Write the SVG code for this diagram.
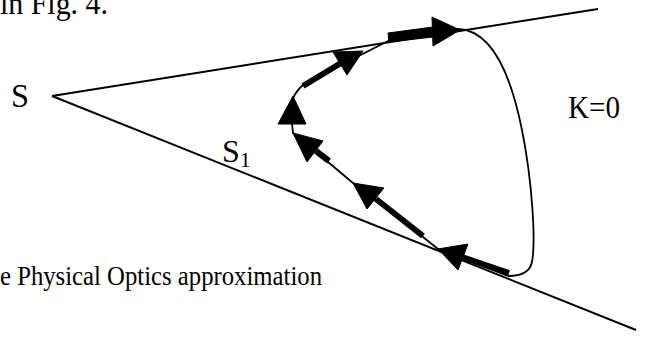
<svg xmlns="http://www.w3.org/2000/svg" width="655" height="344" viewBox="0 0 655 344">
<style>
.t{font-family:"Liberation Serif","Times New Roman",serif;fill:#000}
.ray{stroke:#000;stroke-width:2;fill:none}
.thin{stroke:#000;stroke-width:1.8;fill:none;stroke-linejoin:round}
.thick{stroke:#000;stroke-width:6;fill:none;stroke-linecap:butt}
.head{fill:#000;stroke:#000;stroke-width:1;stroke-linejoin:round}
</style>
<rect width="655" height="344" fill="#fff"/>
<g id="caption-top"><text class="t" x="0" y="14" font-size="31" textLength="108" lengthAdjust="spacingAndGlyphs">in Fig. 4.</text></g>
<g id="caption-bottom"><text class="t" x="0" y="285" font-size="28" textLength="322" lengthAdjust="spacingAndGlyphs">e Physical Optics approximation</text></g>
<g id="rays">
<line class="ray" x1="52" y1="96" x2="598" y2="9"/>
<line class="ray" x1="52" y1="96" x2="636" y2="330"/>
</g>
<g id="curve-K0">
<path class="thin" d="M458,29 C490,30 510,70 522,130 C532,180 536,240 532,262 C530,272 520,276 508,276"/>
</g>
<g id="connectors">
<path class="thin" d="M508,276 L438,249 L423,237 L353,183 L328,162 L293,133 L292,124 L293,98 Q297,90 303,85 L347,62 L390,40 L458,29"/>
<line class="thick" x1="509" y1="273" x2="462" y2="257"/>
<line class="thick" x1="423" y1="236" x2="376" y2="199"/>
<line class="thick" x1="329" y1="161" x2="316" y2="151"/>
<line class="thick" x1="303" y1="86" x2="341" y2="63"/>
<polygon class="head" points="388,33 433,27 433,37 389,42"/>
<polygon class="head" points="438,249 468,244 458,270"/>
<polygon class="head" points="353,183 384,188 367,209"/>
<polygon class="head" points="293,133 323,141 307,162"/>
<polygon class="head" points="293,96 278,124 306,124"/>
<polygon class="head" points="333,52 363,51 347,75"/>
<polygon class="head" points="432,17 433,46 460,30"/>
</g>
<g id="label-S"><text class="t" x="11" y="107" font-size="33" textLength="18" lengthAdjust="spacingAndGlyphs">S</text></g>
<g id="label-S1"><text class="t" x="222" y="162" font-size="32">S<tspan font-size="22" dy="5">1</tspan></text></g>
<g id="label-K0"><text class="t" x="568" y="118" font-size="31" textLength="52" lengthAdjust="spacingAndGlyphs">K=0</text></g>
</svg>
